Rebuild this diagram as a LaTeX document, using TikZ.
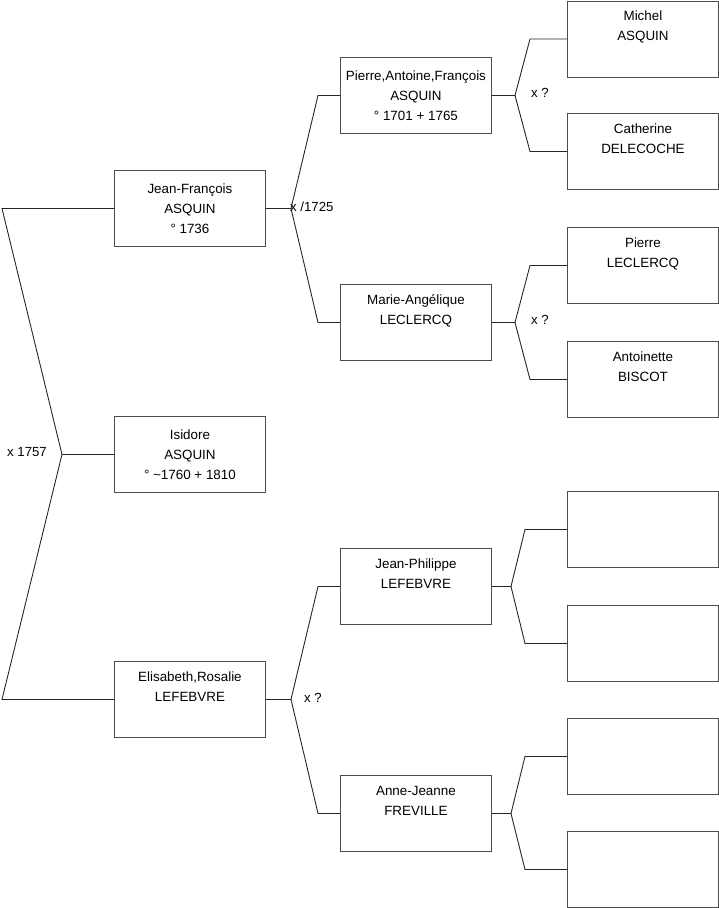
\documentclass[tikz,border=0pt]{standalone}
\usepackage{fontspec}
\setmainfont{Liberation Sans}
\usepackage{tikz}
\usetikzlibrary{positioning}

\begin{document}
\begin{tikzpicture}[
    x=1pt, y=-1pt,
    person/.style={draw=black!70, line width=0.9pt, fill=white,
      minimum width=151pt, minimum height=76pt, inner sep=0pt,
      anchor=north west, align=center,
      font=\fontsize{13.4}{20}\selectfont},
    link/.style={draw=black!85, line width=0.9pt},
    union/.style={font=\fontsize{13.2}{15}\selectfont, anchor=west, inner sep=0pt},
]
\useasboundingbox (0,0) rectangle (719,908);

% ---------------------------------------------------------
% Generation 1
% ---------------------------------------------------------
\node[person] (jf) at (114,170) {Jean-Fran\c{c}ois\\ASQUIN\\\textdegree{} 1736};
\node[person] (isi) at (114,416) {Isidore\\ASQUIN\\\textdegree{} \char`\~1760 + 1810};
\node[person] (eli) at (114,661) {Elisabeth,Rosalie\\LEFEBVRE\\\strut};

% ---------------------------------------------------------
% Generation 2
% ---------------------------------------------------------
\node[person] (paf) at (340,57) {Pierre,Antoine,Fran\c{c}ois\\ASQUIN\\\textdegree{} 1701 + 1765};
\node[person] (mal) at (340,284) {Marie-Ang\'elique\\LECLERCQ\\\strut};
\node[person] (jpl) at (340,548) {Jean-Philippe\\LEFEBVRE\\\strut};
\node[person] (ajf) at (340,775) {Anne-Jeanne\\FREVILLE\\\strut};

% ---------------------------------------------------------
% Generation 3
% ---------------------------------------------------------
\node[person] (mas) at (567,0.5) {Michel\\ASQUIN\\\strut};
\node[person] (cde) at (567,113) {Catherine\\DELECOCHE\\\strut};
\node[person] (ple) at (567,227) {Pierre\\LECLERCQ\\\strut};
\node[person] (abi) at (567,341) {Antoinette\\BISCOT\\\strut};
\node[person] (b1) at (567,491) {};
\node[person] (b2) at (567,605) {};
\node[person] (b3) at (567,718) {};
\node[person] (b4) at (567,831) {};

% ---------------------------------------------------------
% Forks
% ---------------------------------------------------------
\coordinate (f0) at (62,0 |- isi.west);
\coordinate (f0a) at (2,0 |- jf.west);
\coordinate (f0b) at (2,0 |- eli.west);
\draw[link] (isi.west) -- (f0) -- (f0a) -- (jf.west);
\draw[link] (f0) -- (f0b) -- (eli.west);
\node[union] (u0) at (7,452) {x 1757};

\coordinate (f1) at (291,0 |- jf.east);
\coordinate (f1a) at (318,0 |- paf.west);
\coordinate (f1b) at (318,0 |- mal.west);
\draw[link] (jf.east) -- (f1) -- (f1a) -- (paf.west);
\draw[link] (f1) -- (f1b) -- (mal.west);
\node[union] (u1) at (290,207) {x /1725};

\coordinate (f2) at (291,0 |- eli.east);
\coordinate (f2a) at (318,0 |- jpl.west);
\coordinate (f2b) at (318,0 |- ajf.west);
\draw[link] (eli.east) -- (f2) -- (f2a) -- (jpl.west);
\draw[link] (f2) -- (f2b) -- (ajf.west);
\node[union] (u2) at (304,698) {x ?};

\coordinate (f3) at (515,0 |- paf.east);
\coordinate (f3a) at (530,0 |- mas.west);
\coordinate (f3b) at (530,0 |- cde.west);
\draw[link] (paf.east) -- (f3) -- (f3a) -- (mas.west);
\draw[link] (f3) -- (f3b) -- (cde.west);
\node[union] (u3) at (531,93) {x ?};

\coordinate (f4) at (515,0 |- mal.east);
\coordinate (f4a) at (530,0 |- ple.west);
\coordinate (f4b) at (530,0 |- abi.west);
\draw[link] (mal.east) -- (f4) -- (f4a) -- (ple.west);
\draw[link] (f4) -- (f4b) -- (abi.west);
\node[union] (u4) at (531,320) {x ?};

\coordinate (f5) at (511,0 |- jpl.east);
\coordinate (f5a) at (525,0 |- b1.west);
\coordinate (f5b) at (525,0 |- b2.west);
\draw[link] (jpl.east) -- (f5) -- (f5a) -- (b1.west);
\draw[link] (f5) -- (f5b) -- (b2.west);

\coordinate (f6) at (511,0 |- ajf.east);
\coordinate (f6a) at (525,0 |- b3.west);
\coordinate (f6b) at (525,0 |- b4.west);
\draw[link] (ajf.east) -- (f6) -- (f6a) -- (b3.west);
\draw[link] (f6) -- (f6b) -- (b4.west);

\end{tikzpicture}
\end{document}
